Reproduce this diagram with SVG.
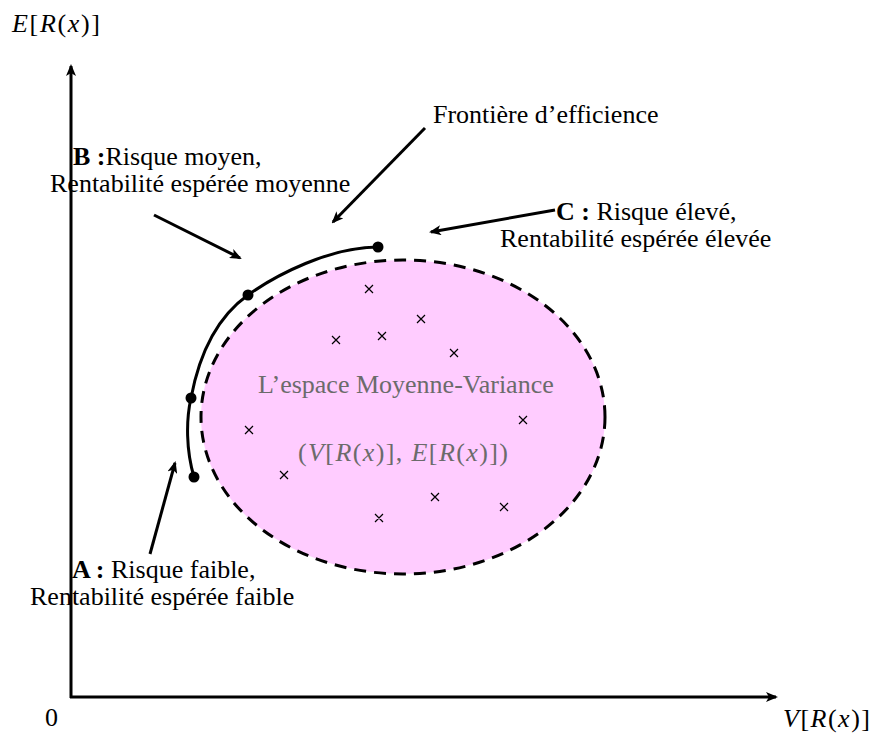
<svg xmlns="http://www.w3.org/2000/svg" width="877" height="738" viewBox="0 0 877 738">
<style>
text{font-family:"Liberation Serif","Times New Roman",serif;font-size:26px;fill:#000}
.m{font-style:italic}
.g{fill:#6b6b6b}
.b{font-weight:bold}
.ax{stroke:#000;stroke-width:3;fill:none}
.ar{stroke:#000;stroke-width:3;fill:none;marker-end:url(#ah)}
.x{stroke:#000;stroke-width:1.2}
</style>
<defs>
<marker id="ah" markerWidth="12" markerHeight="10" refX="10" refY="5" orient="auto" markerUnits="userSpaceOnUse">
<path d="M0,0 L12,5 L0,10 L3,5 z" fill="#000"/>
</marker>
</defs>
<g id="axes">
<line class="ar" x1="71" y1="698" x2="71" y2="66"/>
<line class="ar" x1="70" y1="697" x2="776" y2="697"/>
<text x="12" y="32" textLength="88" lengthAdjust="spacing"><tspan class="m">E</tspan>[<tspan class="m">R</tspan>(<tspan class="m">x</tspan>)]</text>
<text x="45" y="726">0</text>
<text x="783" y="727" textLength="87" lengthAdjust="spacing"><tspan class="m">V</tspan>[<tspan class="m">R</tspan>(<tspan class="m">x</tspan>)]</text>
</g>
<g id="space">
<ellipse cx="403" cy="417" rx="202" ry="157" fill="#ffccff" stroke="#000" stroke-width="3" stroke-dasharray="12,8"/>
<text class="g" x="258" y="393">L’espace Moyenne-Variance</text>
<text class="g" x="298" y="461" textLength="210" lengthAdjust="spacing">(<tspan class="m">V</tspan>[<tspan class="m">R</tspan>(<tspan class="m">x</tspan>)], <tspan class="m">E</tspan>[<tspan class="m">R</tspan>(<tspan class="m">x</tspan>)])</text>
</g>
<g id="portfolios">
<path class="x" d="M365,285l8,8M373,285l-8,8 M332,336l8,8M340,336l-8,8 M378,332l8,8M386,332l-8,8 M417,315l8,8M425,315l-8,8 M450,349l8,8M458,349l-8,8 M245,426l8,8M253,426l-8,8 M280,471l8,8M288,471l-8,8 M519,416l8,8M527,416l-8,8 M375,514l8,8M383,514l-8,8 M431,493l8,8M439,493l-8,8 M500,503l8,8M508,503l-8,8"/>
</g>
<g id="frontier">
<path d="M194,477 C186,450 186,420 191,398 C200,350 220,315 248,295 C276,275 330,247 378,247" fill="none" stroke="#000" stroke-width="3"/>
<circle cx="194" cy="477" r="5.5"/>
<circle cx="191" cy="398" r="5.5"/>
<circle cx="248" cy="295" r="5.5"/>
<circle cx="378" cy="247" r="5.5"/>
</g>
<g id="labels">
<text x="433" y="123">Frontière d’efficience</text>
<text x="73" y="165"><tspan class="b">B :</tspan>Risque moyen,</text>
<text x="50" y="192">Rentabilité espérée moyenne</text>
<text x="556" y="220"><tspan class="b">C :</tspan> Risque élevé,</text>
<text x="500" y="247">Rentabilité espérée élevée</text>
<text x="72" y="578"><tspan class="b">A :</tspan> Risque faible,</text>
<text x="30" y="605">Rentabilité espérée faible</text>
</g>
<g id="connectors">
<line class="ar" x1="425" y1="128" x2="333" y2="222"/>
<line class="ar" x1="154" y1="215" x2="240" y2="258"/>
<line class="ar" x1="555" y1="210" x2="431" y2="232"/>
<line class="ar" x1="150" y1="554" x2="175" y2="463"/>
</g>
</svg>
